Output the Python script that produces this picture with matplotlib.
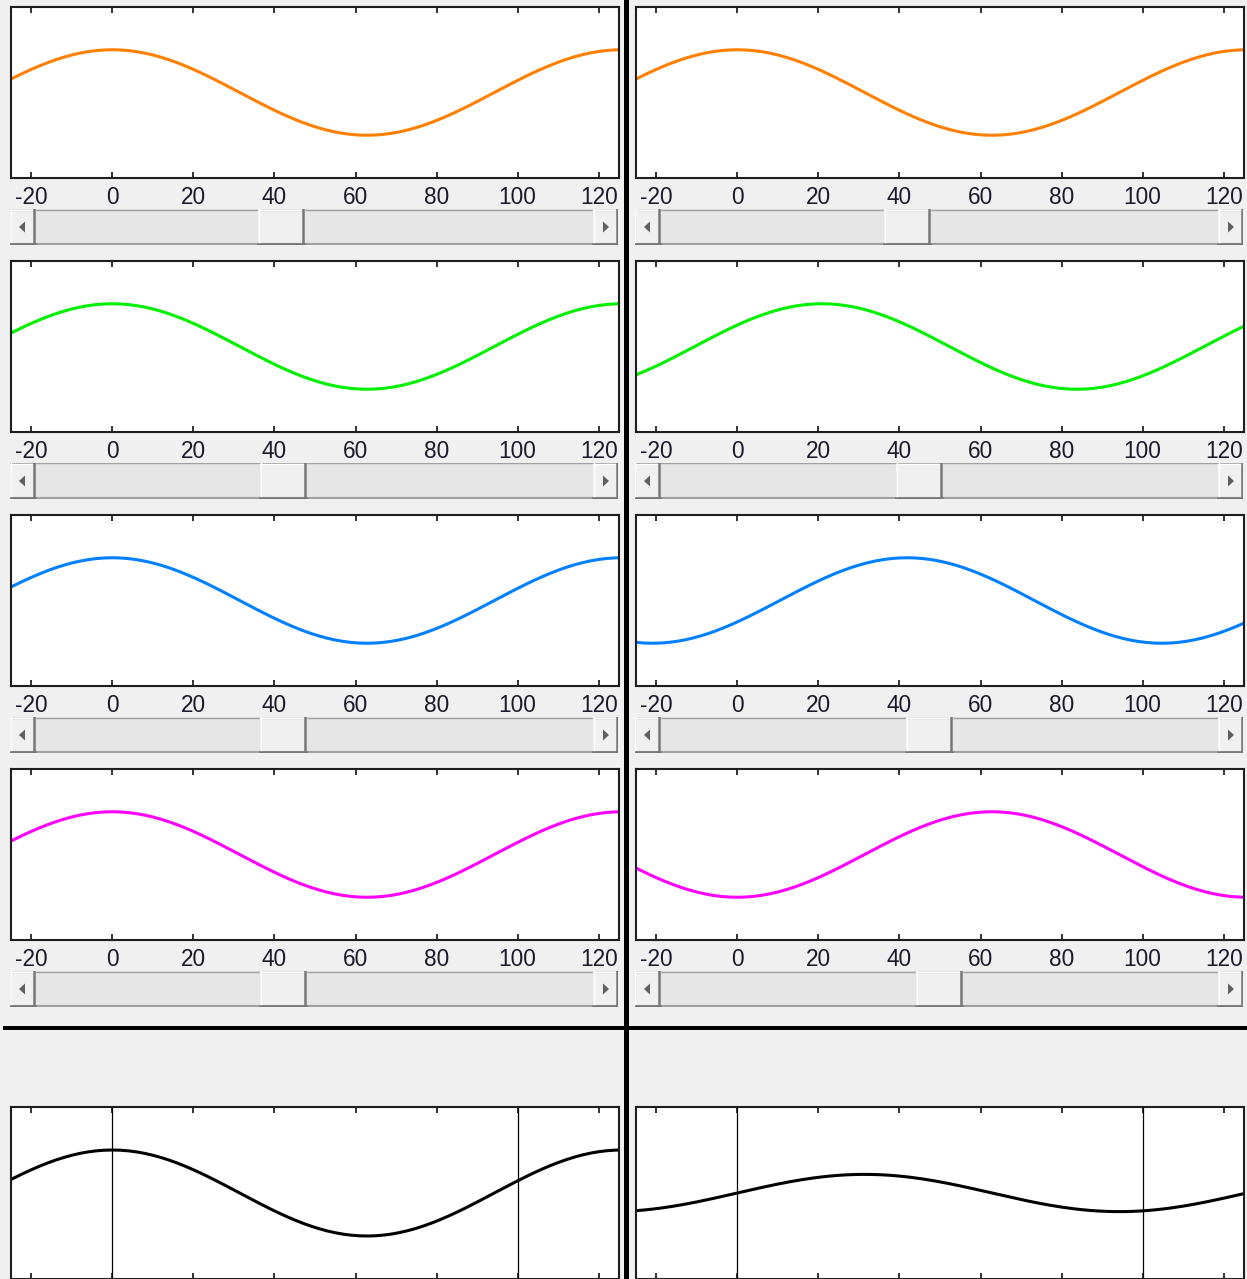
import numpy as np
import matplotlib
matplotlib.use("Agg")
import matplotlib.pyplot as plt
from matplotlib.patches import Rectangle, Polygon

# ---------------- data ----------------
x_ticks = [-20, 0, 20, 40, 60, 80, 100, 120]
x_range = [-25, 125]
period = 125.66            # distance between successive peaks
amplitude = 1.0
colors = ["#ff8000", "#00f000", "#0080ff", "#ff00ff"]
left_peaks = [0.0, 0.0, 0.0, 0.0]          # x-position of a peak, left column
right_peaks = [0.0, 20.9, 41.9, 62.8]      # x-position of a peak, right column
left_thumbs = [248, 250, 250, 250]         # slider thumb offset (px) in each scrollbar
right_thumbs = [249, 261, 271, 281]
sum_markers = [0, 100]                     # vertical guide lines in the bottom plots

# ---------------- layout ----------------
W, H = 1247, 1279
BG = "#f0f0f0"
plt.rcParams["font.family"] = ["Liberation Sans", "DejaVu Sans"]
plt.rcParams["axes.unicode_minus"] = False
fig = plt.figure(figsize=(W / 100, H / 100), dpi=100, facecolor=BG)


def add_ax(left, top, width, height):
    return fig.add_axes([left / W, 1 - (top + height) / H, width / W, height / H])


def style_plot(ax, labels=True):
    ax.set_facecolor("white")
    ax.set_xlim(*x_range)
    ax.set_xticks(x_ticks)
    ax.set_yticks([])
    ax.tick_params(axis="x", direction="in", length=4, width=1.2, top=True,
                   bottom=True, labelsize=16.3, pad=5.5, colors="#111111",
                   labelcolor="#1a1a2a")
    if not labels:
        ax.tick_params(axis="x", labelbottom=False)
    for s in ax.spines.values():
        s.set_linewidth(1.5)
        s.set_color("#1e1e1e")


def draw_scrollbar(left, top, width, thumb, height=36, btn=25, thumb_w=46):
    ax = add_ax(left, top, width, height)
    ax.set_xlim(0, width)
    ax.set_ylim(height, 0)
    ax.axis("off")
    # track
    ax.add_patch(Rectangle((0, 0), width, height, facecolor="#e6e6e6", edgecolor="none"))
    ax.plot([0, width], [0.5, 0.5], color="#a0a0a0", lw=1.0)
    ax.plot([0, width], [height - 1, height - 1], color="#a0a0a0", lw=1.5)

    def button(x0, w):
        ax.add_patch(Rectangle((x0, 0), w, height, facecolor="#f0f0f0", edgecolor="none"))
        ax.plot([x0, x0 + w], [1, 1], color="white", lw=1.0)
        ax.plot([x0 + 0.5, x0 + 0.5], [0, height], color="white", lw=1.0)
        ax.plot([x0, x0 + w], [height - 1.2, height - 1.2], color="#777777", lw=1.8)
        ax.plot([x0 + w - 1.2, x0 + w - 1.2], [0, height], color="#777777", lw=1.8)

    button(0, btn)
    button(width - btn, btn)
    cy = height / 2
    ax.add_patch(Polygon([[btn / 2 - 3.5, cy], [btn / 2 + 2.5, cy - 5.5], [btn / 2 + 2.5, cy + 5.5]],
                         closed=True, facecolor="#606060", edgecolor="none"))
    xr = width - btn / 2
    ax.add_patch(Polygon([[xr + 3.5, cy], [xr - 2.5, cy - 5.5], [xr - 2.5, cy + 5.5]],
                         closed=True, facecolor="#606060", edgecolor="none"))
    button(thumb, thumb_w)


col_left = [11, 636]
col_w = 608
row_tops = [7, 261, 515, 769]
panel_h = 171

xs = np.arange(x_range[0], x_range[1] + 0.5, 1.0)
sums = []
for c, (peaks, thumbs) in enumerate([(left_peaks, left_thumbs), (right_peaks, right_thumbs)]):
    total = np.zeros_like(xs)
    for r in range(4):
        ax = add_ax(col_left[c], row_tops[r], col_w, panel_h)
        y = amplitude * np.cos(2 * np.pi * (xs - peaks[r]) / period)
        total += y
        ax.plot(xs, y, color=colors[r], lw=2.2, solid_capstyle="butt")
        ax.set_ylim(-2, 2)
        style_plot(ax)
        draw_scrollbar(col_left[c] - 1, row_tops[r] + 202, col_w, thumbs[r])
    sums.append(total)

# bottom summary plots
for c in range(2):
    ax = add_ax(col_left[c], 1107, col_w, 172)
    for m in sum_markers:
        ax.axvline(m, color="black", lw=0.9)
    ax.plot(xs, sums[c], color="black", lw=2.2)
    ax.set_ylim(-8, 8)
    style_plot(ax, labels=False)

# separators
fig.add_artist(Rectangle((624 / W, 0), 5 / W, 1, transform=fig.transFigure,
                         facecolor="black", edgecolor="none", zorder=10))
fig.add_artist(Rectangle((3 / W, 1 - 1030 / H), 1, 4 / H, transform=fig.transFigure,
                         facecolor="black", edgecolor="none", zorder=10))

fig.savefig("out.png", dpi=100, facecolor=BG)
